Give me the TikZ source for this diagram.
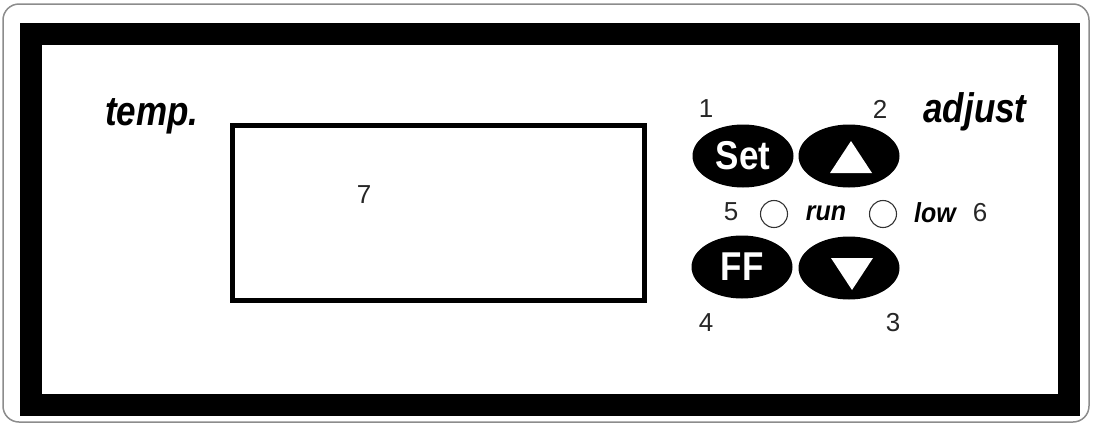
\documentclass[tikz,border=0pt]{standalone}
\usepackage{fontspec}
\setmainfont{Liberation Sans}
\usetikzlibrary{shapes.geometric}
\begin{document}
\begin{tikzpicture}[x=1pt,y=-1pt,
  btn/.style={ellipse, fill=black, minimum width=101pt, minimum height=63pt, inner sep=0pt,
    text=white, font=\fontsize{36}{36}\selectfont\bfseries},
  btntext/.style={text=white, font=\fontsize{35}{35}\selectfont\bfseries, inner sep=0pt, yscale=1.15},
  led/.style={circle, draw=black!80, line width=1.1pt, minimum size=27pt, inner sep=0pt},
  num/.style={font=\fontsize{26}{26}\selectfont, text=black!85, inner sep=0pt},
  title/.style={font=\fontsize{35}{35}\selectfont\bfseries\itshape, inner sep=0pt, yscale=1.18},
  small/.style={font=\fontsize{25}{25}\selectfont\bfseries\itshape, inner sep=0pt, yscale=1.1},
  tri/.style={fill=white}]
\useasboundingbox (0,0) rectangle (1093,426);
\draw[black!45, line width=1.5pt, rounded corners=16pt] (3,4) rectangle (1089,422);
\draw[line width=22pt] (31,34) rectangle (1069,405);
\node[draw, line width=5pt, minimum width=412pt, minimum height=175pt, inner sep=0pt] (display) at (438.5,213) {};
\node[num] (n7) at (364,195) {7};
\node[title] (temp) at (152,116) {temp.};
\node[title] (adjust) at (975,112) {adjust};
\node[btn] (set) at (743,156) {};
\node[btn] (up) at (849,156) {};
\node[btn] (ff) at (742,267) {};
\node[btn] (down) at (849,268) {};
\node[btntext] (settext) at (set.center) {Set};
\node[btntext] (fftext) at (ff.center) {FF};
\fill[tri] ([shift={(2,-15)}]up.center) -- ([shift={(-19,17)}]up.center) -- ([shift={(23,17)}]up.center) -- cycle;
\fill[tri] ([shift={(-18,-10)}]down.center) -- ([shift={(24,-10)}]down.center) -- ([shift={(3,22)}]down.center) -- cycle;
\node[led] (ledrun) at (774,214) {};
\node[led] (ledlow) at (883,214) {};
\node[small] (run) at (826,213) {run};
\node[small] (low) at (935,213) {low};
\node[num] (n5) at (731,212) {5};
\node[num] (n6) at (980,213) {6};
\node[num] (n1) at (706,109) {1};
\node[num] (n2) at (880,109) {2};
\node[num] (n4) at (706,323) {4};
\node[num] (n3) at (893,323) {3};
\end{tikzpicture}
\end{document}
